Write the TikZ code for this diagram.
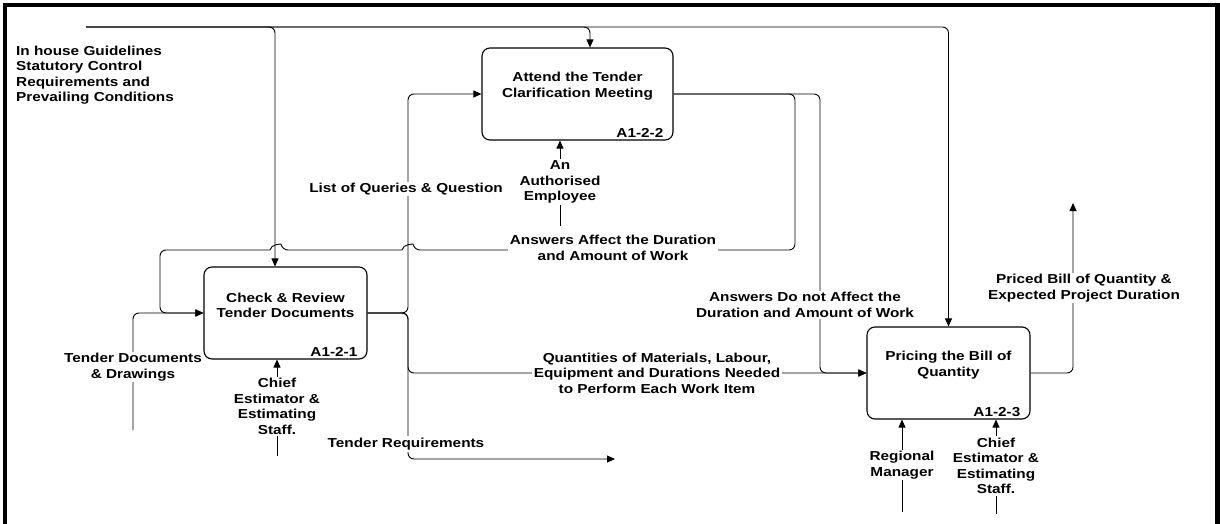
\documentclass[tikz,border=0pt]{standalone}
\usepackage{fontspec}
\setmainfont[FakeStretch=1.18]{Liberation Sans}
\usetikzlibrary{arrows.meta}

\begin{document}
\begin{tikzpicture}[x=1pt,y=-1pt,
    font=\fontsize{13}{15.5}\selectfont\bfseries,
    proc/.style={draw,line width=1.1pt,rounded corners=8pt,minimum width=163pt,minimum height=92pt,inner sep=0pt},
    code/.style={anchor=south east,inner sep=1pt},
    lbl/.style={fill=white,align=center,inner sep=1.5pt},
    flow/.style={-{Triangle[length=8pt,width=7pt]},line width=0.9pt,rounded corners=6pt}]
\useasboundingbox (0,0) rectangle (1220,524);
\draw[line width=4.5pt] (5,530) -- (5,5) -- (1217.5,5) -- (1217.5,530);

% activity boxes
\node[proc] (chk) at (285.5,313) {};
\node[proc,minimum width=191pt] (att) at (577.5,94) {};
\node[proc] (pbq) at (948.5,373) {};
\node (chktxt) at ([yshift=7.5pt]chk.center) [align=center] {Check \& Review\\Tender Documents};
\node (atttxt) at ([yshift=8pt]att.center) [align=center] {Attend the Tender\\Clarification Meeting};
\node (pbqtxt) at ([yshift=8pt]pbq.center) [align=center] {Pricing the Bill of\\Quantity};
\node[code] (chkno) at ([xshift=-9pt,yshift=2pt]chk.south east) {A1-2-1};
\node[code] (attno) at ([xshift=-9pt,yshift=2pt]att.south east) {A1-2-2};
\node[code] (pbqno) at ([xshift=-9pt,yshift=2pt]pbq.south east) {A1-2-3};

% free ends
\coordinate (ctl) at (86,27);
\coordinate (tdin) at (133,430);
\coordinate (sp) at (408,313);
\coordinate (treq) at (615,459);
\coordinate (out) at (1073,203);
\coordinate (m1) at (277,456);
\coordinate (m2) at (560,226);
\coordinate (m3) at (902,512);
\coordinate (m4) at (996,514);

% controls
\draw[flow] (ctl) -| ([xshift=-10.5pt]chk.north);
\draw[flow] (ctl) -| ([xshift=12.5pt]att.north);
\draw[flow] (ctl) -| (pbq.north);
\node[anchor=west,align=left,inner sep=1pt] (guide) at (15,75) {In house Guidelines\\Statutory Control\\Requirements and\\Prevailing Conditions};

% inputs and outputs
\draw[flow] (tdin) |- (chk.west);
\node[lbl] (tdlbl) at (133,367) {Tender Documents\\\& Drawings};

\draw[flow] (chk.east) -- (sp) |- (att.west);
\draw[flow] (chk.east) -- (sp) |- (pbq.west);
\draw[flow] (chk.east) -- (sp) |- (treq);
\node[lbl] (qlbl) at (406,189) {List of Queries \& Question};
\node[lbl] (quant) at (657,373) {Quantities of Materials, Labour,\\Equipment and Durations Needed\\to Perform Each Work Item};
\node[lbl] (reqlbl) at (406,444) {Tender Requirements};

\draw[flow] (att.east) -| (795,250) -- (414,250)
  [sharp corners] .. controls (413,244) and (403,244) .. (402,250)
  [rounded corners=6pt] -- (282,250)
  [sharp corners] .. controls (281,244) and (271,244) .. (270,250)
  [rounded corners=6pt] -- (160,250) |- (chk.west);
\node[lbl] (fblbl) at (613,248) {Answers Affect the Duration\\and Amount of Work};

\draw[flow] (att.east) -| (820,373) -- (pbq.west);
\node[lbl] (nalbl) at (805,305) {Answers Do not Affect the\\Duration and Amount of Work};

\draw[flow] (pbq.east) -| (out);
\node[lbl] (outlbl) at (1084,288) {Priced Bill of Quantity \&\\Expected Project Duration};

% mechanisms
\draw[flow] (m1) -- (m1 |- chk.south);
\node[lbl] (chief1) at (277,406.5) {Chief\\Estimator \&\\Estimating\\Staff.};
\draw[flow] (m2) -- (m2 |- att.south);
\node[lbl] (emp) at (560,182) {An\\Authorised\\Employee};
\draw[flow] (m3) -- (m3 |- pbq.south);
\node[lbl] (rm) at (902,465) {Regional\\Manager};
\draw[flow] (m4) -- (m4 |- pbq.south);
\node[lbl] (chief2) at (996,466) {Chief\\Estimator \&\\Estimating\\Staff.};
\end{tikzpicture}
\end{document}
